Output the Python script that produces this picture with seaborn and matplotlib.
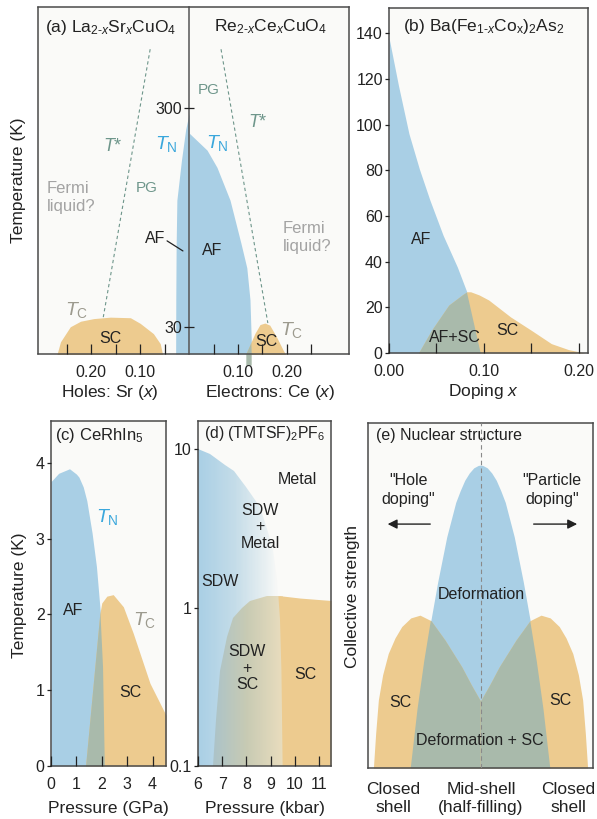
import numpy as np
import matplotlib
matplotlib.use("Agg")
import matplotlib.pyplot as plt
from matplotlib.patches import Polygon
from matplotlib.colors import LinearSegmentedColormap
from matplotlib.ticker import NullLocator
import seaborn as sns

sns.set_theme(style="white")
plt.rcParams["font.family"] = ["Liberation Sans", "DejaVu Sans"]
plt.rcParams["mathtext.fontset"] = "custom"
plt.rcParams["mathtext.rm"] = "Liberation Sans"
plt.rcParams["mathtext.it"] = "Liberation Sans:italic"
plt.rcParams["mathtext.bf"] = "Liberation Sans:bold"

# ---- data ----
# (a) cuprates: holes on the negative side, electrons on the positive side
lsco_af_x = [-0.0275, -0.0272, -0.0265, -0.025, -0.0157, -0.007, 0.0]
lsco_af_T = [22.6, 40, 70, 114, 173, 240, 284]
lsco_sc_x = [-0.270, -0.263, -0.243, -0.222, -0.195, -0.161, -0.120, -0.100, -0.073, -0.059, -0.0545]
lsco_sc_T = [22.6, 25.7, 30.1, 31.9, 32.8, 33.3, 33.1, 31.2, 28.0, 25.2, 22.6]
lsco_tstar_x = [-0.0796, -0.1755]
lsco_tstar_T = [558, 33.3]
re_af_x = [0.128, 0.1245, 0.118, 0.106, 0.0837, 0.057, 0.0367, 0.0]
re_af_T = [22.6, 40, 56, 72.5, 114, 161, 193, 231]
re_sc_x = [0.116, 0.1347, 0.145, 0.155, 0.165, 0.179, 0.1925, 0.197]
re_sc_T = [22.6, 28.1, 30.8, 31.3, 30.6, 27.0, 23.5, 22.6]
re_tstar_x = [0.0653, 0.161]
re_tstar_T = [558, 31.3]

# (b) Ba(Fe1-xCox)2As2
ba_af_x = [0.0, 0.01, 0.021, 0.032, 0.043, 0.057, 0.072, 0.082, 0.0965]
ba_af_T = [138, 117, 96, 80.5, 67, 51.5, 37.6, 26.7, 0]
ba_sc_x = [0.031, 0.045, 0.063, 0.077, 0.082, 0.086, 0.095, 0.105, 0.128, 0.150, 0.171, 0.189, 0.203, 0.206]
ba_sc_T = [0, 10.1, 21, 25.4, 26.8, 26.8, 25.4, 23.2, 15.8, 9.9, 4.1, 1.5, 0.3, 0]

# (c) CeRhIn5
ce_af_p = [0, 0.3, 0.73, 1.0, 1.1, 1.27, 1.41, 1.62, 1.79, 1.95, 2.05, 2.12]
ce_af_T = [3.75, 3.86, 3.92, 3.85, 3.81, 3.68, 3.5, 3.07, 2.63, 2.0, 1.3, 0]
ce_sc_p = [1.36, 1.92, 2.0, 2.2, 2.45, 2.85, 3.24, 3.9, 4.53]
ce_sc_T = [0, 2.0, 2.15, 2.24, 2.26, 2.1, 1.75, 1.09, 0.67]

# (d) (TMTSF)2PF6
tm_sdw_p = [6.0, 6.5, 7.1, 7.5, 8.0, 8.56, 8.9, 9.11, 9.25, 9.32, 9.39, 9.45, 9.5]
tm_sdw_T = [10, 9.3, 8.0, 7.3, 5.8, 4.3, 3.0, 2.3, 1.5, 1.21, 0.85, 0.4, 0.1]
tm_sc_p = [6.6, 6.73, 6.93, 7.18, 7.45, 7.8, 8.15, 8.84, 9.39, 10.22, 11.5]
tm_sc_T = [0.1, 0.194, 0.40, 0.65, 0.86, 1.0, 1.1, 1.18, 1.19, 1.15, 1.11]

# (e) nuclear structure (schematic units)
nuc_def_x = [0.19, 0.22, 0.25, 0.28, 0.31, 0.35, 0.39, 0.41, 0.43, 0.45, 0.47, 0.49, 0.50,
             0.51, 0.53, 0.55, 0.57, 0.59, 0.61, 0.65, 0.69, 0.72, 0.75, 0.78, 0.81]
nuc_def_y = [0, 0.17, 0.31, 0.43, 0.54, 0.67, 0.77, 0.804, 0.834, 0.855, 0.870, 0.877, 0.878,
             0.877, 0.870, 0.855, 0.834, 0.804, 0.77, 0.67, 0.54, 0.43, 0.31, 0.17, 0]
nuc_scl_x = [0.024, 0.034, 0.046, 0.065, 0.09, 0.12, 0.15, 0.19, 0.231, 0.28, 0.342, 0.416, 0.46, 0.502]
nuc_scl_y = [0, 0.1, 0.197, 0.27, 0.332, 0.377, 0.41, 0.435, 0.443, 0.427, 0.371, 0.294, 0.24, 0.192]
nuc_scr_x = [0.498, 0.54, 0.584, 0.658, 0.72, 0.769, 0.81, 0.85, 0.88, 0.91, 0.935, 0.954, 0.966, 0.976]
nuc_scr_y = [0.192, 0.24, 0.294, 0.371, 0.427, 0.443, 0.435, 0.41, 0.377, 0.332, 0.27, 0.197, 0.1, 0]

# ---- styling ----
BLUE = "#a9cfe5"
ORANGE = "#edcb8f"
OVER = "#a9baab"
BG = "#fafaf8"
EDGE = "#4a4a4a"
INK = "#222222"
TN_C = "#3aa7dc"
TC_C = "#9c9a8e"
TSTAR_C = "#6e968b"
FERMI_C = "#a3a3a3"
TICK = 11.5
LAB = 12.5
ANN = 11.5
TITLE = 12

W, H = 597, 819
fig = plt.figure(figsize=(W / 100, H / 100), dpi=100)


def add_ax(x0, y0, x1, y1):
    ax = fig.add_axes([x0 / W, 1 - y1 / H, (x1 - x0) / W, (y1 - y0) / H])
    ax.set_facecolor(BG)
    ax.set_axisbelow(False)
    for sp in ax.spines.values():
        sp.set_color(EDGE)
        sp.set_linewidth(1.1)
    ax.tick_params(colors=INK, labelsize=TICK)
    return ax


def txt(ax, x, y, s, color=INK, size=ANN, ha="center", **kw):
    ax.text(x, y, s, transform=ax.transAxes, color=color, fontsize=size,
            ha=ha, va="center", zorder=5, **kw)


def poly(ax, xs, ys):
    return Polygon(np.column_stack([xs, ys]), closed=True, transform=ax.transData)


def in_ticks(ax, major, labels, minor=None, pad=8):
    ax.set_xticks(major)
    ax.set_xticklabels(labels)
    if minor is not None:
        ax.set_xticks(minor, minor=True)
    ax.tick_params(axis="x", which="both", direction="in", length=7.5, width=0.9,
                   bottom=True, pad=pad, color=INK)


def out_yticks(ax):
    ax.tick_params(axis="y", which="major", direction="out", length=3, width=0.9,
                   left=True, pad=1.5, color=INK)


# ---------- (a) cuprates ----------
axa = add_ax(38, 7, 349, 354)
axa.set_yscale("log")
axa.fill_betweenx(lsco_af_T, lsco_af_x, 0, color=BLUE, lw=0)
axa.fill_betweenx(re_af_T, 0, re_af_x, color=BLUE, lw=0)
axa.fill_between(lsco_sc_x, 20, lsco_sc_T, color=ORANGE, lw=0)
axa.fill_between(re_sc_x, 20, re_sc_T, color=ORANGE, lw=0)
ov = axa.fill_between(re_sc_x, 20, re_sc_T, color=OVER, lw=0)
ov.set_clip_path(poly(axa, [0, re_af_x[0]] + re_af_x, [20, 20] + re_af_T))
for xs, ts in [(lsco_tstar_x, lsco_tstar_T), (re_tstar_x, re_tstar_T)]:
    sns.lineplot(x=xs, y=ts, ax=axa, color=TSTAR_C, lw=0.8, ls=(0, (3, 2.5)), sort=False)

axa.spines["left"].set_position(("data", 0))
axa.spines["left"].set_color("#555555")
axa.plot([0, 0], [0, 1], transform=axa.transAxes, color=EDGE, lw=1.1, clip_on=False)
axa.set_yticks([30, 300])
axa.set_yticklabels(["30", "300"])
axa.yaxis.set_minor_locator(NullLocator())
axa.tick_params(axis="y", which="major", direction="inout", length=7, width=0.9,
                left=True, pad=1.5, color=INK)
in_ticks(axa, [-0.2, -0.1, 0.1, 0.2], ["0.20", "0.10", "0.10", "0.20"],
         [-0.25, -0.15, -0.05, 0.05, 0.15, 0.25])
axa.set_xlim(-0.309, 0.327)
axa.set_ylim(22.6, 870)
axa.set_ylabel("Temperature (K)", fontsize=LAB, color=INK, va="center")
axa.yaxis.set_label_coords(-0.064, 0.501)

txt(axa, 0.0225, 0.942, r"(a) La$_{2\text{-}x}$Sr$_x$CuO$_4$", ha="left", size=12.5)
txt(axa, 0.746, 0.942, r"Re$_{2\text{-}x}$Ce$_x$CuO$_4$", size=12.5)
txt(axa, 0.55, 0.761, "PG", color=TSTAR_C, size=11)
txt(axa, 0.35, 0.478, "PG", color=TSTAR_C, size=11)
txt(axa, 0.241, 0.597, r"$T$*", color=TSTAR_C, size=13)
txt(axa, 0.707, 0.666, r"$T$*", color=TSTAR_C, size=13)
txt(axa, 0.412, 0.605, r"$T_\mathrm{N}$", color=TN_C, size=14)
txt(axa, 0.576, 0.608, r"$T_\mathrm{N}$", color=TN_C, size=14)
txt(axa, 0.029, 0.451, "Fermi\nliquid?", color=FERMI_C, size=12, ha="left", linespacing=1.2)
txt(axa, 0.788, 0.336, "Fermi\nliquid?", color=FERMI_C, size=12, ha="left", linespacing=1.2)
txt(axa, 0.376, 0.334, "AF")
axa.plot([0.415, 0.466], [0.326, 0.297], transform=axa.transAxes, color=INK, lw=0.9)
txt(axa, 0.559, 0.297, "AF")
txt(axa, 0.125, 0.127, r"$T_\mathrm{C}$", color=TC_C, size=14)
txt(axa, 0.817, 0.069, r"$T_\mathrm{C}$", color=TC_C, size=14)
txt(axa, 0.232, 0.046, "SC")
txt(axa, 0.733, 0.037, "SC")
txt(axa, 0.2315, -0.112, r"Holes: Sr ($x$)", size=LAB)
txt(axa, 0.746, -0.112, r"Electrons: Ce ($x$)", size=LAB)

# ---------- (b) iron pnictide ----------
axb = add_ax(389, 8, 588, 353)
axb.fill_between(ba_af_x, 0, ba_af_T, color=BLUE, lw=0)
axb.fill_between(ba_sc_x, 0, ba_sc_T, color=ORANGE, lw=0)
ov = axb.fill_between(ba_sc_x, 0, ba_sc_T, color=OVER, lw=0)
ov.set_clip_path(poly(axb, [0] + ba_af_x, [0] + ba_af_T))
axb.set_yticks([0, 20, 40, 60, 80, 100, 120, 140])
out_yticks(axb)
in_ticks(axb, [0, 0.1, 0.2], ["0.00", "0.10", "0.20"], [0.05, 0.15])
axb.set_xlim(0, 0.2096)
axb.set_ylim(0, 151)
axb.set_xlabel(r"Doping $x$", fontsize=LAB, color=INK, va="center")
axb.xaxis.set_label_coords(0.477, -0.113)
txt(axb, 0.069, 0.945, r"(b) Ba(Fe$_{1\text{-}x}$Co$_\mathrm{x}$)$_2$As$_2$", ha="left", size=12.5)
txt(axb, 0.161, 0.328, "AF")
txt(axb, 0.332, 0.046, "AF+SC")
txt(axb, 0.593, 0.064, "SC")

# ---------- (c) CeRhIn5 ----------
axc = add_ax(51, 421, 166, 766)
axc.fill_between(ce_af_p, 0, ce_af_T, color=BLUE, lw=0)
axc.fill_between(ce_sc_p, 0, ce_sc_T, color=ORANGE, lw=0)
ov = axc.fill_between(ce_sc_p, 0, ce_sc_T, color=OVER, lw=0)
ov.set_clip_path(poly(axc, [0] + ce_af_p, [0] + ce_af_T))
axc.set_yticks([0, 1, 2, 3, 4])
out_yticks(axc)
in_ticks(axc, [0, 1, 2, 3, 4], ["0", "1", "2", "3", "4"])
axc.set_xlim(0, 4.53)
axc.set_ylim(0, 4.55)
axc.set_xlabel("Pressure (GPa)", fontsize=LAB, color=INK, va="center")
axc.xaxis.set_label_coords(0.496, -0.122)
axc.set_ylabel("Temperature (K)", fontsize=LAB, color=INK, va="center")
axc.yaxis.set_label_coords(-0.27, 0.496)
txt(axc, 0.035, 0.959, r"(c) CeRhIn$_5$", ha="left", size=TITLE)
txt(axc, 0.487, 0.722, r"$T_\mathrm{N}$", color=TN_C, size=14)
txt(axc, 0.191, 0.452, "AF")
txt(axc, 0.817, 0.423, r"$T_\mathrm{C}$", color=TC_C, size=14)
txt(axc, 0.687, 0.212, "SC")

# ---------- (d) (TMTSF)2PF6 ----------
axd = add_ax(198, 421, 331, 766)
axd.set_yscale("log")
sdw_patch = poly(axd, [6.0] + tm_sdw_p, [0.1] + tm_sdw_T)
sdw_cmap = LinearSegmentedColormap.from_list(
    "sdw", [(0, BLUE), (0.45, "#c4dce8"), (0.8, "#e6eef1"), (1, BG)])
gx = np.linspace(6.0, 9.4, 70)
mesh = axd.pcolormesh(gx, [0.1, 15.1], np.linspace(0, 1, 69)[None, :], cmap=sdw_cmap,
                      shading="flat", antialiased=False, linewidth=0, zorder=1)
mesh.set_clip_path(sdw_patch)
mix_cmap = LinearSegmentedColormap.from_list("mix", ["#a9c2ca", "#c7cab3", "#e8dcbd"])
gx2 = np.linspace(6.5, 9.5, 70)
mesh2 = axd.pcolormesh(gx2, [0.1, 15.1], np.linspace(0, 1, 69)[None, :], cmap=mix_cmap,
                       shading="flat", antialiased=False, linewidth=0, zorder=1.1)
mesh2.set_clip_path(poly(axd, tm_sc_p + [11.5], tm_sc_T + [0.1]))
sc_fill = axd.fill_between(tm_sc_p, 0.1, tm_sc_T, color=ORANGE, lw=0, zorder=1.2)
sc_fill.set_clip_path(poly(axd, [6.0, 11.6, 11.6] + tm_sdw_p[::-1],
                           [16, 16, 0.1] + tm_sdw_T[::-1]))
axd.set_yticks([0.1, 1, 10])
axd.set_yticklabels(["0.1", "1", "10"])
axd.yaxis.set_minor_locator(NullLocator())
out_yticks(axd)
in_ticks(axd, [6, 7, 8, 9, 10, 11], ["6", "7", "8", "9", "10", "11"])
axd.set_xlim(6, 11.5)
axd.set_ylim(0.1, 15.1)
axd.set_xlabel("Pressure (kbar)", fontsize=LAB, color=INK, va="center")
axd.xaxis.set_label_coords(0.504, -0.122)
txt(axd, 0.045, 0.965, r"(d) (TMTSF)$_2$PF$_6$", ha="left", size=11.3)
txt(axd, 0.744, 0.829, "Metal")
txt(axd, 0.466, 0.693, "SDW\n+\nMetal", linespacing=1.15)
txt(axd, 0.165, 0.536, "SDW")
txt(axd, 0.368, 0.284, "SDW\n+\nSC", linespacing=1.15)
txt(axd, 0.805, 0.264, "SC")

# ---------- (e) nuclear structure ----------
axe = add_ax(368, 423, 593, 768)
axe.fill_between(nuc_def_x, 0, nuc_def_y, color=BLUE, lw=0)
def_patch = poly(axe, nuc_def_x, nuc_def_y)
for xs, ys in [(nuc_scl_x, nuc_scl_y), (nuc_scr_x, nuc_scr_y)]:
    axe.fill_between(xs, 0, ys, color=ORANGE, lw=0)
    ov = axe.fill_between(xs, 0, ys, color=OVER, lw=0)
    ov.set_clip_path(def_patch)
axe.axvline(0.5, color="#8a8a8a", lw=0.8, ls=(0, (4, 3)), zorder=3)
axe.set_xlim(0, 1)
axe.set_ylim(0, 1)
axe.set_xticks([])
axe.set_yticks([])
axe.set_ylabel("Collective strength", fontsize=LAB, color=INK, va="center")
axe.yaxis.set_label_coords(-0.071, 0.496)
txt(axe, 0.036, 0.965, "(e) Nuclear structure", ha="left", size=ANN)
txt(axe, 0.178, 0.806, '"Hole\ndoping"', linespacing=1.3)
txt(axe, 0.818, 0.806, '"Particle\ndoping"', linespacing=1.3)
axe.annotate("", xy=(0.075, 0.707), xytext=(0.289, 0.707), xycoords="axes fraction",
             arrowprops=dict(arrowstyle="-|>", color=INK, lw=1.0, mutation_scale=14))
axe.annotate("", xy=(0.942, 0.707), xytext=(0.724, 0.707), xycoords="axes fraction",
             arrowprops=dict(arrowstyle="-|>", color=INK, lw=1.0, mutation_scale=14))
txt(axe, 0.502, 0.504, "Deformation")
txt(axe, 0.142, 0.191, "SC")
txt(axe, 0.853, 0.197, "SC")
txt(axe, 0.498, 0.081, "Deformation + SC")
txt(axe, 0.111, -0.087, "Closed\nshell", size=LAB, linespacing=1.25)
txt(axe, 0.502, -0.087, "Mid-shell\n(half-filling)", size=LAB, linespacing=1.25)
txt(axe, 0.889, -0.087, "Closed\nshell", size=LAB, linespacing=1.25)

fig.savefig("out.png", dpi=100, facecolor="white")
